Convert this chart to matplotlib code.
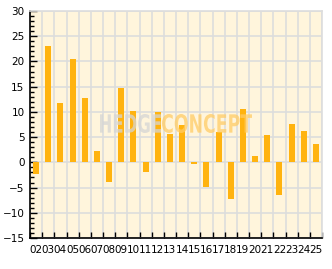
import matplotlib
matplotlib.use('Agg')
import matplotlib.pyplot as plt
import numpy as np
from matplotlib.ticker import MultipleLocator, FixedLocator
from matplotlib.textpath import TextPath
from matplotlib.patches import PathPatch
from matplotlib.font_manager import FontProperties
from matplotlib.transforms import Affine2D

labels = ['02', '03', '04', '05', '06', '07', '08', '09', '10', '11', '12', '13',
          '14', '15', '16', '17', '18', '19', '20', '21', '22', '23', '24', '25']
values = [-2.4, 23.0, 11.7, 20.4, 12.7, 2.2, -3.9, 14.7, 10.1, -2.0, 10.0, 5.7,
          7.4, -0.3, -4.8, 6.1, -7.3, 10.5, 1.2, 5.4, -6.5, 7.5, 6.2, 3.6]

bar_color = '#FFB30F'
bg = '#FFF5DC'
grid = '#DDDDDD'

fig = plt.figure(figsize=(3.32, 2.69), dpi=100)
ax = fig.add_axes([30/332, 31/269, 292/332, 227/269])
ax.set_facecolor(bg)

x = np.arange(len(labels))
ax.bar(x, values, width=0.5, color=bar_color, zorder=3)

ax.set_xlim(-0.5, len(labels) - 0.5)
ax.set_ylim(-15, 30)

ax.yaxis.set_major_locator(MultipleLocator(5))
ax.yaxis.set_minor_locator(MultipleLocator(1))
ax.set_xticks(x)
ax.set_xticklabels(labels)
ax.xaxis.set_minor_locator(FixedLocator(np.arange(-0.5, len(labels), 1)))

ax.tick_params(axis='x', which='major', length=0, pad=5, labelsize=7.5)
ax.tick_params(axis='x', which='minor', direction='in', length=4, width=1, color='black')
ax.tick_params(axis='y', which='major', direction='in', length=5, width=1, labelsize=7.5, pad=4)
ax.tick_params(axis='y', which='minor', direction='in', length=3, width=1)

ax.grid(axis='y', which='major', color=grid, linewidth=1.2, zorder=0)
ax.grid(axis='x', which='minor', color=grid, linewidth=1.2, zorder=0)
ax.set_axisbelow(True)

ax.spines['left'].set_color('black')
ax.spines['bottom'].set_color('black')
ax.spines['top'].set_color(grid)
ax.spines['right'].set_color(grid)
for s in ax.spines.values():
    s.set_linewidth(1.2)


# watermark: condensed bold text squeezed into a box (axes fraction)
def squeeze_text(s, x0, x1, y0, y1, color, alpha):
    tp = TextPath((0, 0), s, size=1, prop=FontProperties(family='DejaVu Sans', weight='bold'))
    ext = tp.get_extents()
    t = (Affine2D().translate(-ext.x0, -ext.y0)
         .scale((x1 - x0) / ext.width, (y1 - y0) / ext.height)
         .translate(x0, y0))
    ax.add_patch(PathPatch(t.transform_path(tp), transform=ax.transAxes,
                           facecolor=color, edgecolor='none', alpha=alpha, zorder=4))


squeeze_text('HEDGE', 70/292, 131/292, 105/227, 124/227, '#D5D5D5', 0.75)
squeeze_text('CONCEPT', 132/292, 222/292, 105/227, 124/227, '#FFCC66', 0.75)

fig.savefig('out.png', dpi=100)
